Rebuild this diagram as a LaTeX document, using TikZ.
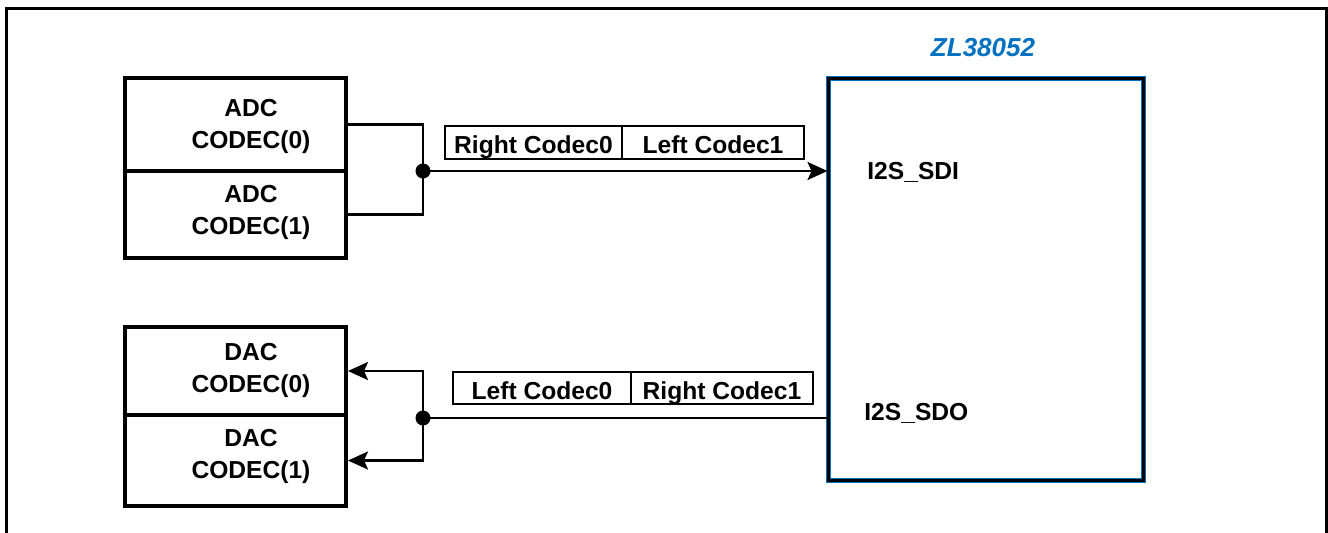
\documentclass[tikz,border=0pt]{standalone}
\usepackage{fontspec}
\setmainfont{Liberation Sans}
\usetikzlibrary{positioning,arrows.meta}
\definecolor{zlblue}{RGB}{0,112,192}

\begin{document}
\begin{tikzpicture}[x=0.5pt,y=-0.5pt]
\tikzset{box/.style={draw,line width=2pt,minimum width=110.5pt,inner sep=0pt}}
\tikzset{txt/.style={font=\fontsize{12.3}{16}\selectfont\bfseries,align=center,inner sep=0pt}}
\tikzset{slot/.style={draw,line width=0.75pt,font=\fontsize{12.3}{14}\selectfont\bfseries,
    text height=11.5pt,text depth=0.5pt,inner sep=0pt}}
\tikzset{wire/.style={line width=1.1pt}}
\tikzset{tip/.style={-{Stealth[length=10pt,width=9pt,inset=2pt]}}}

  \useasboundingbox (0,0) rectangle (1328,532);
  \draw[line width=1.5pt] (6,540) -- (6,8) -- (1326,8) -- (1326,540);

  \node[box,minimum height=46.5pt] (adc0) at (235.5,124.5) {};
  \node[box,minimum height=43.5pt] (adc1) at (235.5,214.5) {};
  \node[box,minimum height=44pt]   (dac0) at (235.5,371) {};
  \node[box,minimum height=45.5pt] (dac1) at (235.5,460.5) {};
  \node[txt] at (251,126)   {ADC\\CODEC(0)};
  \node[txt] at (251,212.5) {ADC\\CODEC(1)};
  \node[txt] at (251,370)   {DAC\\CODEC(0)};
  \node[txt] at (251,456)   {DAC\\CODEC(1)};

  \node[draw=zlblue,double=black,double distance=1.5pt,line width=0.5pt,
        minimum width=157.5pt,minimum height=201pt] (zl) at (985.5,279) {};
  \node[font=\fontsize{13}{15}\selectfont\bfseries\itshape,text=zlblue] (zlname) at (983,48) {ZL38052};
  \node[txt,anchor=west] (sdi) at (867,172) {I2S\_SDI};
  \node[txt,anchor=west] (sdo) at (864,413) {I2S\_SDO};

  \node[slot,minimum width=88.5pt,minimum height=16.5pt] (rc0) at (533.5,142.5) {Right Codec0};
  \node[slot,minimum width=91pt,minimum height=16.5pt]   (lc1) at (713,142.5)   {Left Codec1};
  \node[slot,minimum width=89pt,minimum height=16pt]     (lc0) at (542,388)     {Left Codec0};
  \node[slot,minimum width=91pt,minimum height=16pt]     (rc1) at (722,388)     {Right Codec1};

  \coordinate (jin) at (423,171);
  \coordinate (jout) at (423,418);

  \draw[wire] (adc0.east) -| (jin);
  \draw[wire] (adc1.east) -| (jin);
  \draw[wire,tip] (jin) -- (jin -| zl.west);
  \fill (jin) circle (3.75pt);

  \draw[wire] (zl.west |- jout) -- (jout);
  \draw[wire,tip] (jout) |- (dac0.east);
  \draw[wire,tip] (jout) |- (dac1.east);
  \fill (jout) circle (3.75pt);
\end{tikzpicture}
\end{document}
